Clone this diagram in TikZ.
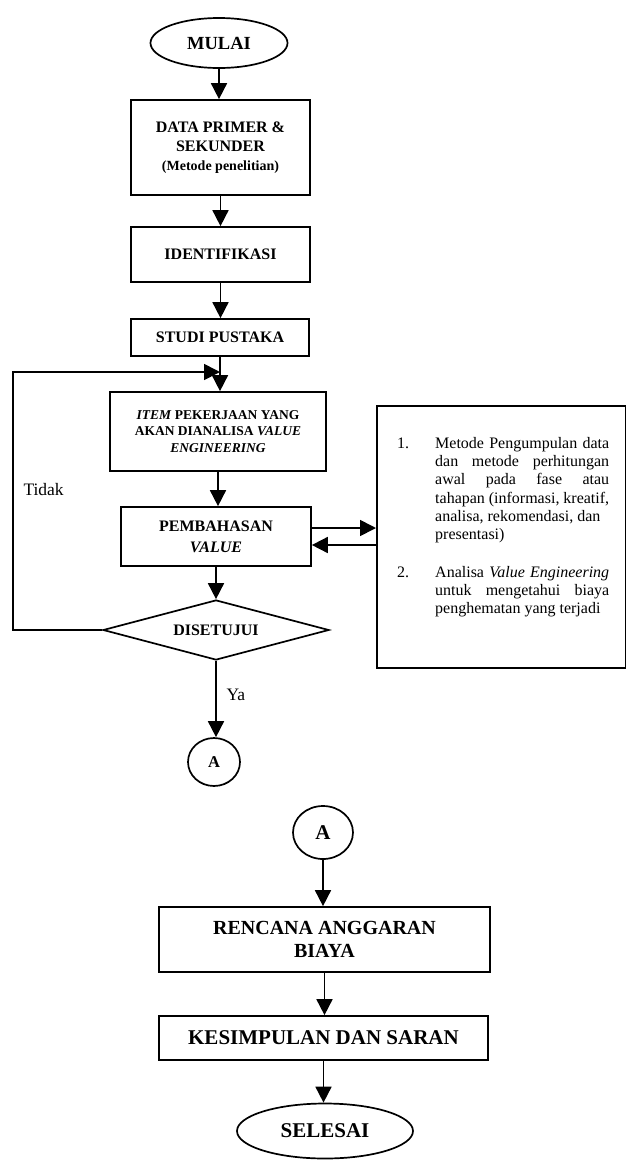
\documentclass[tikz,border=0pt]{standalone}
\usepackage{fontspec}
\setmainfont{Liberation Serif}
\usetikzlibrary{shapes.geometric, arrows.meta, positioning}

\begin{document}
\begin{tikzpicture}[
    x=1pt, y=-1pt,
    every node/.style={align=center},
    proc/.style={draw, line width=1.7pt, inner sep=2pt, font=\bfseries\fontsize{16}{19}\selectfont},
    term/.style={draw, ellipse, line width=1.7pt, inner sep=0pt, font=\bfseries\fontsize{18.5}{21}\selectfont},
    conn/.style={draw, ellipse, line width=1.7pt, inner sep=0pt, font=\bfseries\fontsize{16.5}{19}\selectfont},
    decision/.style={draw, diamond, aspect=3.8, line width=1.7pt, inner sep=0pt, minimum width=226pt, minimum height=60pt, font=\bfseries\fontsize{16}{19}\selectfont},
    arrow/.style={-{Triangle[width=16pt,length=16pt]}, line width=1.7pt},
    label/.style={font=\fontsize{17.5}{20}\selectfont}
  ]
  \useasboundingbox (0,0) rectangle (626,1160);

  % Upper flow
  \node[term, minimum width=137pt, minimum height=50pt] (mulai) at (219,43) {MULAI};
  \node[proc, minimum width=179pt, minimum height=95pt] (data) at (220.5,147.5) {DATA PRIMER \&\\SEKUNDER\\{\fontsize{14}{19}\selectfont(Metode penelitian)}};
  \node[proc, minimum width=179pt, minimum height=55pt] (ident) at (220.5,254.5) {IDENTIFIKASI};
  \node[proc, minimum width=178pt, minimum height=37pt] (studi) at (220,337.5) {STUDI PUSTAKA};
  \node[proc, minimum width=216pt, minimum height=79pt, font=\bfseries\fontsize{13.5}{16.5}\selectfont] (item) at (218,431.5) {\textit{ITEM} PEKERJAAN YANG\\AKAN DIANALISA \textit{VALUE}\\\textit{ENGINEERING}};
  \node[proc, minimum width=190pt, minimum height=59pt, font=\bfseries\fontsize{16}{21}\selectfont] (bahas) at (216,536.5) {PEMBAHASAN\\\textit{VALUE}};
  \node[decision] (setuju) at (216,630) {DISETUJUI};
  \node[conn, minimum width=52pt, minimum height=48pt] (a1) at (214,762) {A};

  % Explanation box
  \node[draw, line width=1.7pt, inner sep=0pt, minimum width=249pt, minimum height=262pt, anchor=north west] (info) at (376,405) {};
  \node[anchor=north west, inner sep=0pt, align=left, font=\fontsize{16}{18.3}\selectfont] (infotext) at (397,437) {%
    \makebox[38pt][l]{1.}\makebox[174pt][s]{Metode Pengumpulan data}\\
    \hspace*{38pt}\makebox[174pt][s]{dan metode perhitungan}\\
    \hspace*{38pt}\makebox[174pt][s]{awal pada fase atau}\\
    \hspace*{38pt}\makebox[174pt][s]{tahapan (informasi, kreatif,}\\
    \hspace*{38pt}\makebox[174pt][l]{analisa, rekomendasi, dan}\\
    \hspace*{38pt}\makebox[174pt][l]{presentasi)}\\[19pt]
    \makebox[38pt][l]{2.}\makebox[174pt][s]{Analisa \textit{Value Engineering}}\\
    \hspace*{38pt}\makebox[174pt][s]{untuk mengetahui biaya}\\
    \hspace*{38pt}\makebox[174pt][l]{penghematan yang terjadi}};

  % Lower flow
  \node[conn, minimum width=60pt, minimum height=53pt, font=\bfseries\fontsize{21}{24}\selectfont] (a2) at (323,832.5) {A};
  \node[proc, minimum width=331pt, minimum height=65pt, font=\bfseries\fontsize{20}{23}\selectfont] (rab) at (324.5,939.5) {RENCANA ANGGARAN\\BIAYA};
  \node[proc, minimum width=329pt, minimum height=44pt, font=\bfseries\fontsize{21}{24}\selectfont] (saran) at (323.5,1038) {KESIMPULAN DAN SARAN};
  \node[term, minimum width=176pt, minimum height=55pt, font=\bfseries\fontsize{21}{24}\selectfont] (selesai) at (325,1131) {SELESAI};

  % Labels
  \node[label, anchor=west] (tidak) at (20,490) {Tidak};
  \node[label, anchor=west] (ya) at (223,695) {Ya};

  % Arrows
  \draw[arrow] (mulai.south) -- (mulai.south |- data.north);
  \draw[arrow] (data.south) -- (data.south |- ident.north);
  \draw[arrow] (ident.south) -- (ident.south |- studi.north);
  \draw[arrow] (studi.south) -- (studi.south |- item.north);
  \draw[arrow] (item.south) -- (item.south |- bahas.north);
  \draw[arrow] (bahas.south) -- (bahas.south |- setuju.north);
  \draw[arrow] (setuju.south) -- (setuju.south |- a1.north);

  % Loop back (Tidak)
  \coordinate (loopcorner) at (13,372);
  \coordinate (loopend) at (220,372);
  \draw[arrow] (setuju.west) -| (loopcorner) -- (loopend);

  % To and from the explanation box
  \draw[arrow] ([yshift=8.5pt]bahas.east) -- ([yshift=8.5pt]bahas.east -| info.west);
  \draw[arrow] ([yshift=-8.5pt]bahas.east -| info.west) -- ([yshift=-8.5pt]bahas.east);

  \draw[arrow] (a2.south) -- (a2.south |- rab.north);
  \draw[arrow] (rab.south) -- (rab.south |- saran.north);
  \draw[arrow] (saran.south) -- (saran.south |- selesai.north);
\end{tikzpicture}
\end{document}
